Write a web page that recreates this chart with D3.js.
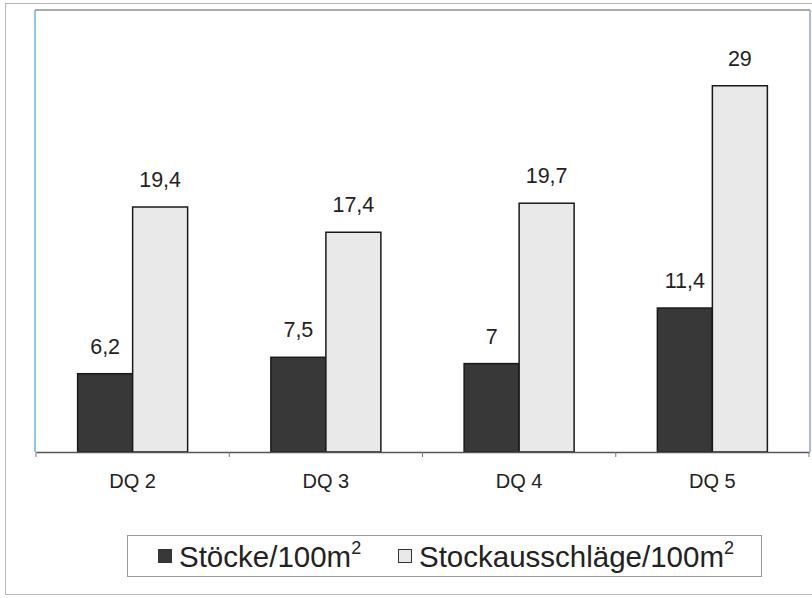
<!DOCTYPE html>
<html>
<head>
<meta charset="utf-8">
<script src="https://cdn.jsdelivr.net/npm/d3@7/dist/d3.min.js"></script>
<style>
  html, body { margin: 0; padding: 0; background: #fff; }
  svg { display: block; font-family: "Liberation Sans", Arial, sans-serif; }
</style>
</head>
<body>
<svg id="chart" width="812" height="598"></svg>
<script>
// Categories (diameter classes) and the two series per 100 m²
const categories = ["DQ 2", "DQ 3", "DQ 4", "DQ 5"];
const seriesNames = ["Stöcke", "Stockausschläge"];
const stoecke = [6.2, 7.5, 7, 11.4];
const stockausschlaege = [19.4, 17.4, 19.7, 29];
const valueLabels = [["6,2", "7,5", "7", "11,4"], ["19,4", "17,4", "19,7", "29"]];

const colors = { "Stöcke": "#383838", "Stockausschläge": "#e9e9e9" };

const svg = d3.select("#chart");

// outer chart frame
svg.append("rect")
  .attr("x", 5.5).attr("y", 3.5).attr("width", 820).attr("height", 591)
  .attr("fill", "none").attr("stroke", "#b8b8b8").attr("stroke-width", 1);

const plot = { left: 36, right: 809, top: 10, bottom: 452 };

const x0 = d3.scaleBand().domain(categories).range([plot.left, plot.right]).padding(0);
const groupW = 110;
const x1 = d3.scaleBand().domain(seriesNames)
  .range([(x0.bandwidth() - groupW) / 2, (x0.bandwidth() + groupW) / 2]).padding(0);
const y = d3.scaleLinear().domain([0, 35]).range([plot.bottom, plot.top]);

// plot area border
svg.append("line").attr("x1", plot.left - 1).attr("x2", plot.left - 1)
  .attr("y1", plot.top).attr("y2", plot.bottom)
  .attr("stroke", "#6fb0dc").attr("stroke-width", 1.5);
svg.append("line").attr("x1", plot.right + 1).attr("x2", plot.right + 1)
  .attr("y1", plot.top).attr("y2", plot.bottom)
  .attr("stroke", "#8fa6d6").attr("stroke-width", 1.5);
svg.append("line").attr("x1", plot.left - 1).attr("x2", plot.right + 1)
  .attr("y1", plot.top).attr("y2", plot.top)
  .attr("stroke", "#8a8f98").attr("stroke-width", 1.5);

const data = categories.map((c, i) => ({
  cat: c,
  vals: [
    { s: seriesNames[0], v: stoecke[i], label: valueLabels[0][i] },
    { s: seriesNames[1], v: stockausschlaege[i], label: valueLabels[1][i] }
  ]
}));

const groups = svg.append("g").selectAll("g").data(data).join("g")
  .attr("transform", d => `translate(${x0(d.cat)},0)`);

groups.selectAll("rect").data(d => d.vals).join("rect")
  .attr("x", d => x1(d.s))
  .attr("y", d => y(d.v))
  .attr("width", x1.bandwidth())
  .attr("height", d => y(0) - y(d.v))
  .attr("fill", d => colors[d.s])
  .attr("stroke", "#1a1a1a")
  .attr("stroke-width", 1.5);

groups.selectAll("text").data(d => d.vals).join("text")
  .attr("x", d => x1(d.s) + x1.bandwidth() / 2)
  .attr("y", d => y(d.v) - 20)
  .attr("text-anchor", "middle")
  .attr("font-size", 21.5)
  .attr("fill", "#222")
  .text(d => d.label);

// x axis
const xAxis = d3.axisBottom(x0).tickSize(0).tickPadding(22);
const ax = svg.append("g").attr("transform", `translate(0,${plot.bottom})`).call(xAxis);
ax.select(".domain").attr("stroke", "#555").attr("stroke-width", 1.5);
ax.selectAll("text").attr("font-size", 20).attr("fill", "#222")
  .attr("font-family", "Liberation Sans, Arial, sans-serif");
// tick marks at category boundaries
const bounds = categories.map(c => x0(c)).concat([x0.range()[1]]);
svg.append("g").selectAll("line").data(bounds).join("line")
  .attr("x1", d => d).attr("x2", d => d)
  .attr("y1", plot.bottom).attr("y2", plot.bottom + 5)
  .attr("stroke", "#777").attr("stroke-width", 1);

// legend
const legend = svg.append("g");
legend.append("rect")
  .attr("x", 127.5).attr("y", 535.5).attr("width", 634).attr("height", 41)
  .attr("fill", "#fff").attr("stroke", "#999").attr("stroke-width", 1);

const legendItems = [
  { s: seriesNames[0], x: 158 },
  { s: seriesNames[1], x: 398 }
];
const li = legend.selectAll("g.item").data(legendItems).join("g").attr("class", "item")
  .attr("transform", d => `translate(${d.x},0)`);
li.append("rect")
  .attr("x", 0.5).attr("y", 549.5).attr("width", 13).attr("height", 13)
  .attr("fill", d => colors[d.s]).attr("stroke", "#333").attr("stroke-width", 1);
const lt = li.append("text")
  .attr("x", 21).attr("y", 567)
  .attr("font-size", 29.5).attr("fill", "#222");
lt.append("tspan").text(d => d.s + "/100m");
lt.append("tspan").attr("font-size", 18).attr("dy", -13).text("2");
</script>
</body>
</html>
